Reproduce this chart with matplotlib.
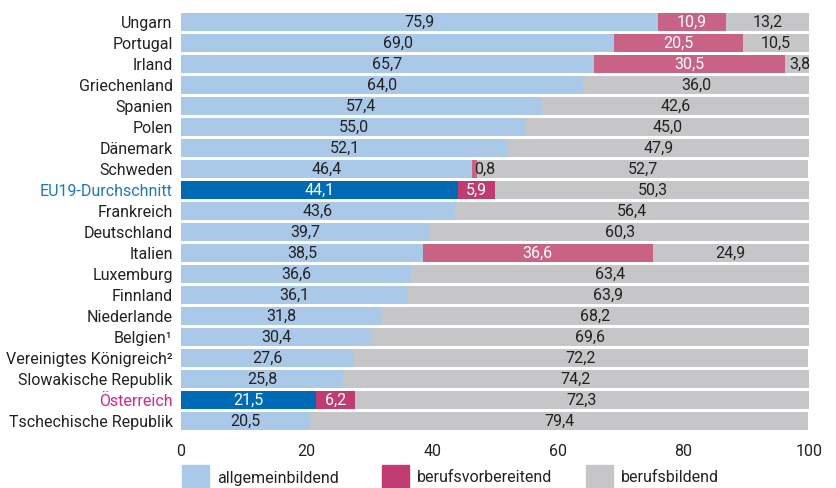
import matplotlib
matplotlib.use('Agg')
from matplotlib import pyplot as plt
from matplotlib.patches import Rectangle

countries = ['Ungarn', 'Portugal', 'Irland', 'Griechenland', 'Spanien', 'Polen',
             'Dänemark', 'Schweden', 'EU19-Durchschnitt', 'Frankreich', 'Deutschland',
             'Italien', 'Luxemburg', 'Finnland', 'Niederlande', 'Belgien¹',
             'Vereinigtes Königreich²', 'Slowakische Republik', 'Österreich',
             'Tschechische Republik']
allgemein = [75.9, 69.0, 65.7, 64.0, 57.4, 55.0, 52.1, 46.4, 44.1, 43.6, 39.7,
             38.5, 36.6, 36.1, 31.8, 30.4, 27.6, 25.8, 21.5, 20.5]
vorbereitend = [10.9, 20.5, 30.5, 0, 0, 0, 0, 0.8, 5.9, 0, 0,
                36.6, 0, 0, 0, 0, 0, 0, 6.2, 0]
bildend = [13.2, 10.5, 3.8, 36.0, 42.6, 45.0, 47.9, 52.7, 50.3, 56.4, 60.3,
           24.9, 63.4, 63.9, 68.2, 69.6, 72.2, 74.2, 72.3, 79.4]
highlight = {'EU19-Durchschnitt': '#1a7abf', 'Österreich': '#e0218a'}
legend_labels = ['allgemeinbildend', 'berufsvorbereitend', 'berufsbildend']

LIGHT = '#aac8e8'
DARK = '#006ab4'
PINK = '#c96386'
PINK_D = '#c03c70'
GRAY = '#c6c6c8'
TXT = '#222222'
FS = 11.5

plt.rcParams['font.family'] = ['Roboto', 'DejaVu Sans']

W, H = 837, 488
fig = plt.figure(figsize=(W / 100, H / 100), dpi=100)
ax = fig.add_axes([0.2163, 0.1158, 0.7502, 0.8606])

for i, c in enumerate(countries):
    hl = c in highlight
    segs = [(allgemein[i], DARK if hl else LIGHT, 'white' if hl else TXT),
            (vorbereitend[i], PINK_D if hl else PINK, 'white'),
            (bildend[i], GRAY, TXT)]
    left = 0
    for val, col, tc in segs:
        if val > 0:
            ax.barh(i, val, left=left, height=0.86, color=col, edgecolor='none')
            s = f'{val:.1f}'.replace('.', ',')
            if val < 2:
                ax.text(left + 0.3, i, s, ha='left', va='center', color=TXT, fontsize=FS)
            elif val < 5:
                ax.text(left + val / 2 + 0.4, i, s, ha='center', va='center', color=tc, fontsize=FS)
            else:
                ax.text(left + val / 2, i, s, ha='center', va='center', color=tc, fontsize=FS)
        left += val

ax.set_xlim(0, 100)
ax.set_ylim(len(countries) - 0.5, -0.5)
ax.set_yticks(range(len(countries)))
ax.set_yticklabels(countries)
ax.set_xticks([0, 20, 40, 60, 80, 100])
ax.tick_params(axis='both', length=0, labelsize=FS, colors=TXT)
ax.tick_params(axis='x', pad=9)
ax.tick_params(axis='y', pad=6)
for lab in ax.get_yticklabels():
    if lab.get_text() in highlight:
        lab.set_color(highlight[lab.get_text()])
for sp in ax.spines.values():
    sp.set_visible(False)

# legend drawn by hand in pixel positions
leg_cols = [LIGHT, PINK_D, GRAY]
leg_x = [182, 382, 586]
for x, col, lab in zip(leg_x, leg_cols, legend_labels):
    fig.patches.append(Rectangle((x / W, 0), 27 / W, 23 / H, color=col,
                                 transform=fig.transFigure, figure=fig))
    fig.text((x + 35) / W, 1 - 478 / H, lab, ha='left', va='center',
             fontsize=FS, color=TXT)

fig.savefig('out.png', dpi=100)
plt.close()
